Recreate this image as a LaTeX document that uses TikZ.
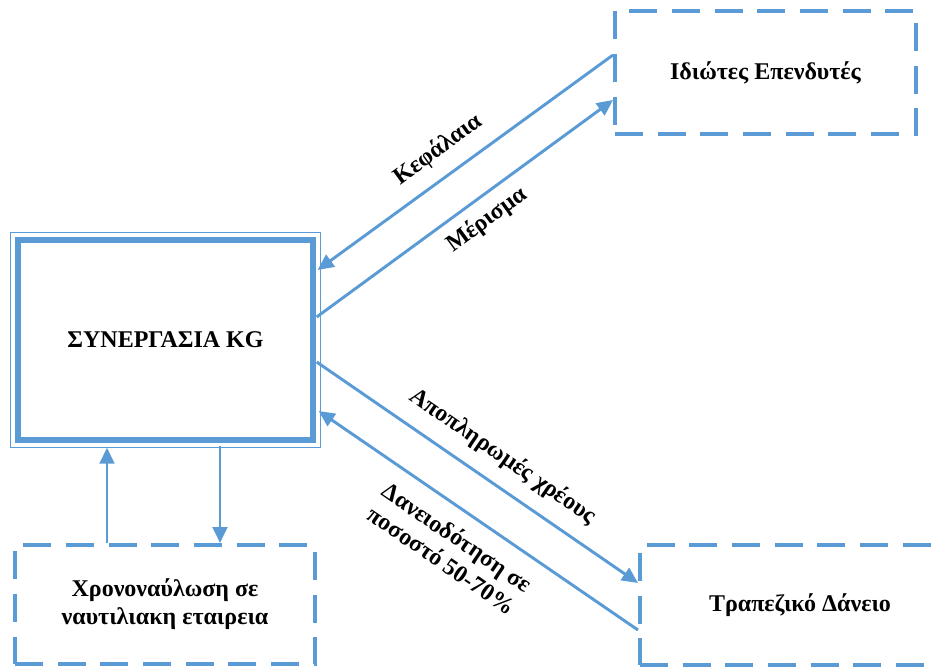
\documentclass[tikz,border=0pt]{standalone}
\usepackage{fontspec}
\setmainfont{Liberation Serif}
\usetikzlibrary{arrows.meta,calc}
\definecolor{lineblue}{RGB}{91,155,213}
\begin{document}
\begin{tikzpicture}[x=0.75pt,y=-0.75pt,
  every node/.style={font=\bfseries\fontsize{18}{21}\selectfont},
  dashbox/.style={draw=lineblue,line width=3pt,dash pattern=on 21pt off 11pt,align=center},
  flow/.style={draw=lineblue,line width=2.2pt,-{Triangle[length=12pt,width=11pt]}},
  flowlabel/.style={sloped,inner sep=0pt,align=center}]
  \useasboundingbox (0,0) rectangle (931,668);
  % boxes
  \node[dashbox,minimum width=225.75pt,minimum height=92.25pt] (inv) at (765.5,72.5) {Ιδιώτες Επενδυτές};
  \node[draw=lineblue,line width=4pt,minimum width=221.25pt,minimum height=150pt] (kg) at (165.5,340) {ΣΥΝΕΡΓΑΣΙΑ KG};
  \draw[lineblue,line width=1pt] ($(kg.north west)+(-5,-5)$) rectangle ($(kg.south east)+(5,5)$);
  \node[dashbox,minimum width=225pt,minimum height=89.25pt] (charter) at (165,604.5) {Χρονοναύλωση σε\\ναυτιλιακη εταιρεια};
  \node[dashbox,minimum width=240pt,minimum height=90pt] (bank) at (800,605) {Τραπεζικό Δάνειο};
  % flows
  \draw[flow] ($(inv.west)+(0,-17.5)$) -- node[flowlabel,pos=0.54,above=10pt] {Κεφάλαια} ($(kg.east)+(2,-70)$);
  \draw[flow] ($(kg.east)+(1,-23)$) -- node[flowlabel,pos=0.53,below=7pt] {Μέρισμα} ($(inv.west)+(0,27.5)$);
  \draw[flow] ($(kg.east)+(1,22)$) -- node[flowlabel,pos=0.53,above=11pt] {Αποπληρωμές χρέους} ($(bank.west)+(0,-22)$);
  \draw[flow] ($(bank.west)+(0,25)$) -- node[flowlabel,pos=0.52,below=11pt] {Δανειοδότηση σε\\ποσοστό 50-70\%} ($(kg.east)+(3,71)$);
  \draw[flow] ($(charter.north)+(-58,0)$) -- ($(kg.south)+(-58.5,5)$);
  \draw[flow] ($(kg.south)+(54.5,3)$) -- ($(charter.north)+(55,0)$);
\end{tikzpicture}
\end{document}
